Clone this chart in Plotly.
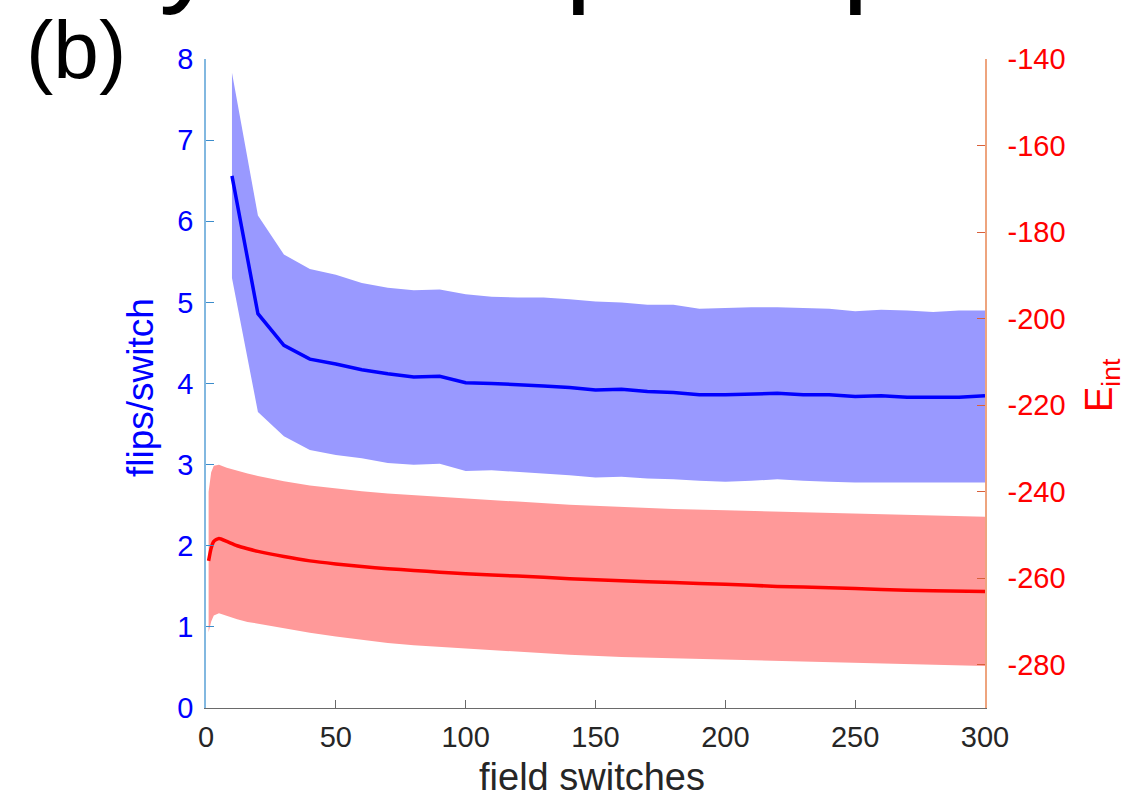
import plotly.graph_objects as go

# ---------------- data ----------------
blue_x = [10, 20, 30, 40, 50, 60, 70, 80, 90, 100, 110, 120, 130, 140, 150,
          160, 170, 180, 190, 200, 210, 220, 230, 240, 250, 260, 270, 280, 290, 300]
blue_mean = [6.56, 4.86, 4.47, 4.30, 4.24, 4.17, 4.12, 4.08, 4.09, 4.01, 4.00, 3.99, 3.97, 3.95, 3.92,
             3.93, 3.90, 3.89, 3.86, 3.86, 3.87, 3.88, 3.86, 3.86, 3.84, 3.85, 3.83, 3.83, 3.83, 3.85]
blue_upper = [7.83, 6.07, 5.59, 5.41, 5.34, 5.24, 5.18, 5.15, 5.16, 5.10, 5.07, 5.06, 5.06, 5.04, 5.01,
              5.00, 4.97, 4.97, 4.92, 4.93, 4.94, 4.94, 4.93, 4.92, 4.89, 4.91, 4.90, 4.88, 4.90, 4.90]
blue_lower = [5.30, 3.65, 3.35, 3.18, 3.12, 3.08, 3.02, 3.00, 3.01, 2.92, 2.93, 2.91, 2.89, 2.87, 2.84,
              2.85, 2.83, 2.82, 2.80, 2.79, 2.80, 2.82, 2.80, 2.79, 2.78, 2.78, 2.78, 2.78, 2.78, 2.78]

red_x = [1, 2, 3, 5, 8, 12, 16, 20, 30, 40, 50, 60, 70, 80, 90, 100,
         120, 140, 160, 180, 200, 220, 240, 260, 280, 300]
red_mean = [-256.0, -253.0, -251.5, -250.8, -251.5, -252.5, -253.2, -253.8, -255.0, -256.0, -256.7,
            -257.3, -257.8, -258.2, -258.6, -259.0, -259.5, -260.1, -260.6, -261.0, -261.4, -261.9,
            -262.2, -262.6, -262.9, -263.1]
red_upper = [-240.0, -235.5, -234.0, -233.8, -234.5, -235.2, -235.8, -236.4, -237.6, -238.6, -239.3,
             -239.9, -240.4, -240.8, -241.2, -241.6, -242.3, -243.0, -243.5, -244.0, -244.3, -244.6,
             -244.9, -245.1, -245.5, -245.8]
red_lower = [-272.5, -270.0, -268.6, -268.1, -268.8, -269.5, -270.1, -270.6, -271.6, -272.6, -273.5,
             -274.3, -275.0, -275.5, -275.9, -276.3, -277.0, -277.7, -278.2, -278.5, -278.8, -279.2,
             -279.5, -279.8, -280.0, -280.3]

x_ticks = [0, 50, 100, 150, 200, 250, 300]
left_ticks = [0, 1, 2, 3, 4, 5, 6, 7, 8]
right_ticks = [-280, -260, -240, -220, -200, -180, -160, -140]
right_labels = ["-280", "-260", "-240", "-220", "-200", "-180", "-160", "-140"]

FONT = "Liberation Sans, Arial, Helvetica, sans-serif"
BLUE = "#0000FF"
RED = "#FF0000"

fig = go.Figure()

# blue band (flips/switch)
fig.add_trace(go.Scatter(
    x=blue_x + blue_x[::-1], y=blue_upper + blue_lower[::-1],
    fill="toself", fillcolor="#9999FF", line=dict(width=0), mode="lines",
    hoverinfo="skip", showlegend=False, yaxis="y"))
fig.add_trace(go.Scatter(
    x=blue_x, y=blue_mean, mode="lines", line=dict(color=BLUE, width=3.5),
    showlegend=False, yaxis="y"))

# red band (E_int)
fig.add_trace(go.Scatter(
    x=red_x + red_x[::-1], y=red_upper + red_lower[::-1],
    fill="toself", fillcolor="#FF9999", line=dict(width=0), mode="lines",
    hoverinfo="skip", showlegend=False, yaxis="y2"))
fig.add_trace(go.Scatter(
    x=red_x, y=red_mean, mode="lines", line=dict(color=RED, width=3.5, shape="spline", smoothing=0.6),
    showlegend=False, yaxis="y2"))

L, R, T, B = 206, 138, 59, 90
W, H = 1123, 798
pw, ph = W - L - R, H - T - B

def px_x(p):
    return (p - L) / pw

def px_y(p):
    return (H - B - p) / ph

fig.update_layout(
    width=W, height=H,
    margin=dict(l=L, r=R, t=T, b=B, pad=0),
    paper_bgcolor="white", plot_bgcolor="white",
    font=dict(family=FONT),
    xaxis=dict(range=[0, 300], tickvals=x_ticks, ticks="inside", ticklen=8, tickwidth=1,
               tickcolor="#6a6a6a", showline=True, linecolor="#6a6a6a", linewidth=1.2,
               showgrid=False, zeroline=False, tickfont=dict(size=29, color="#262626", family=FONT),
               ticklabelstandoff=3),
    yaxis=dict(range=[0, 8], tickvals=left_ticks, ticks="inside", ticklen=8, tickwidth=1,
               tickcolor="#3b8ccb", showline=True, linecolor="#82b8e0", linewidth=1.5,
               showgrid=False, zeroline=False, tickfont=dict(size=29, color=BLUE, family=FONT),
               ticklabelstandoff=5),
    yaxis2=dict(range=[-290, -140], tickvals=right_ticks, ticktext=right_labels,
                overlaying="y", side="right",
                ticks="inside", ticklen=8, tickwidth=1, tickcolor="#d9603a",
                showline=True, linecolor="#eea47e", linewidth=1.5, showgrid=False, zeroline=False,
                tickfont=dict(size=29, color=RED, family=FONT), ticklabelstandoff=15),
)

annotations = [
    dict(text="field switches", x=px_x(592), y=px_y(777), xref="paper", yref="paper",
         showarrow=False, xanchor="center", yanchor="middle",
         font=dict(size=38, color="#262626", family=FONT)),
    dict(text="flips/switch", x=px_x(141), y=px_y(388), xref="paper", yref="paper",
         showarrow=False, xanchor="center", yanchor="middle", textangle=-90,
         font=dict(size=37, color=BLUE, family=FONT)),
    dict(text="E<sub>int</sub>", x=px_x(1102), y=px_y(385), xref="paper", yref="paper",
         showarrow=False, xanchor="center", yanchor="middle", textangle=-90,
         font=dict(size=38, color=RED, family=FONT)),
    dict(text="(b)", x=px_x(76), y=px_y(49), xref="paper", yref="paper",
         showarrow=False, xanchor="center", yanchor="middle",
         font=dict(size=82, color="black", family=FONT)),
]
# large title cropped by the top edge (only the descenders remain visible)
for ch, xp in [("y", 157), ("p", 563), ("p", 840)]:
    annotations.append(dict(text=ch, x=px_x(xp), y=px_y(17), xref="paper", yref="paper",
                            showarrow=False, xanchor="left", yanchor="bottom",
                            font=dict(size=120, color="black", family=FONT)))
fig.update_layout(annotations=annotations)

fig.write_html("out.html")
